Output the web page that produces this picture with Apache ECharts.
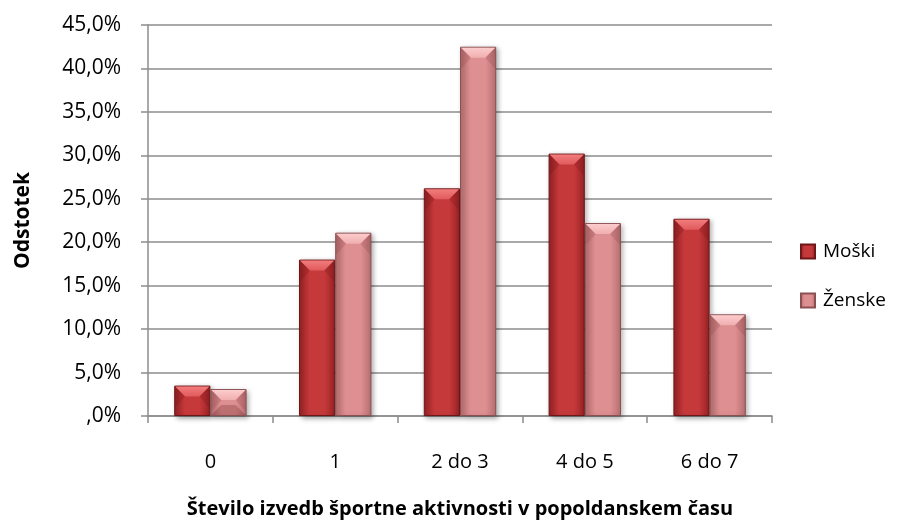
<!DOCTYPE html>
<html>
<head>
<meta charset="utf-8">
<script src="https://cdn.jsdelivr.net/npm/echarts@6/dist/echarts.min.js"></script>
<style>
  html, body { margin: 0; padding: 0; background: #ffffff; }
  #chart { width: 903px; height: 524px; }
</style>
</head>
<body>
<div id="chart"></div>
<script>
// Število izvedb športne aktivnosti v popoldanskem času, po spolu (odstotki)
const categories = ['0', '1', '2 do 3', '4 do 5', '6 do 7'];
const moski = [3.5, 18.0, 26.2, 30.2, 22.7];
const zenske = [3.1, 21.1, 42.5, 22.2, 11.7];
const seriesNames = ['Moški', 'Ženske'];

const FONT = '"Open Sans", "Noto Sans", sans-serif';
const GAP_RATIO = 0.42;   // barCategoryGap as a fraction
const BEVEL = 11;

const palette = {
  moski:  { edge: '#982224', mid: '#c6393b', cap: '#f27c7c', capEdge: '#e05a5c', side: 'rgba(120,20,22,0.25)', border: '#6e1618' },
  zenske: { edge: '#b86f71', mid: '#de8f91', cap: '#fccccc', capEdge: '#f0aeb0', side: 'rgba(130,60,62,0.2)', border: '#8a5052' }
};

function barGradient(p) {
  return new echarts.graphic.LinearGradient(0, 0, 1, 0, [
    { offset: 0, color: p.edge },
    { offset: 0.3, color: p.mid },
    { offset: 0.7, color: p.mid },
    { offset: 1, color: p.edge }
  ]);
}

// Bevelled cap on top of each bar, positioned through the axes' own scales
function bevelRenderer(p, slot) {
  return function (params, api) {
    const idx = api.value(0);
    const val = api.value(1);
    const top = api.coord([idx, val]);
    const base = api.coord([idx, 0]);
    const catW = api.size([1, 0])[0];
    const barW = catW * (1 - GAP_RATIO) / 2;
    const x0 = top[0] + (slot === 0 ? -barW : 0);
    const x1 = x0 + barW;
    const y0 = top[1];
    const h = base[1] - y0;
    const b = Math.min(BEVEL, h / 2, barW / 2);
    const children = [
      {
        // side facets of the cap
        type: 'polygon',
        shape: { points: [[x0 + 1, y0 + 1], [x0 + b, y0 + b], [x0 + 1, y0 + 2 * b]] },
        style: { fill: p.side },
        silent: true
      },
      {
        type: 'polygon',
        shape: { points: [[x1 - 1, y0 + 1], [x1 - b, y0 + b], [x1 - 1, y0 + 2 * b]] },
        style: { fill: p.side },
        silent: true
      },
      {
        type: 'polygon',
        shape: { points: [[x0 + 1, y0 + 1], [x1 - 1, y0 + 1], [x1 - b, y0 + b], [x0 + b, y0 + b]] },
        style: {
          fill: new echarts.graphic.LinearGradient(0, 0, 0, 1, [
            { offset: 0, color: p.cap },
            { offset: 1, color: p.capEdge }
          ])
        },
        silent: true
      }
    ];
    if (h < 2 * BEVEL + 6) {
      // short bars read as a pyramid: darker lower facet
      children.push({
        type: 'polygon',
        shape: { points: [[x0 + 1, base[1] - 1], [x1 - 1, base[1] - 1], [x1 - b, base[1] - b], [x0 + b, base[1] - b]] },
        style: { fill: 'rgba(90,20,20,0.25)' },
        silent: true
      });
    }
    return { type: 'group', children: children };
  };
}

const chart = echarts.init(document.getElementById('chart'), null, { renderer: 'canvas' });

chart.setOption({
  backgroundColor: '#ffffff',
  animation: false,
  grid: { left: 148, right: 131, top: 25, bottom: 108, containLabel: false, outerBoundsMode: 'none' },
  legend: {
    orient: 'vertical',
    left: 795,
    top: 237,
    itemWidth: 14,
    itemHeight: 14,
    itemGap: 30,
    icon: 'rect',
    textStyle: { fontFamily: FONT, fontSize: 19, color: '#000', padding: [0, 0, 0, 3] },
    data: seriesNames
  },
  xAxis: {
    type: 'category',
    data: categories,
    name: 'Število izvedb športne aktivnosti v popoldanskem času',
    nameLocation: 'middle',
    nameGap: 83,
    nameTextStyle: { fontFamily: FONT, fontSize: 20, fontWeight: 'bold', color: '#000' },
    axisLine: { lineStyle: { color: '#8c8c8c', width: 1.5 } },
    axisTick: { show: true, length: 7, lineStyle: { color: '#8c8c8c', width: 1.5 } },
    axisLabel: { fontFamily: FONT, fontSize: 20, color: '#000', margin: 36 }
  },
  yAxis: {
    type: 'value',
    min: 0,
    max: 45,
    interval: 5,
    name: 'Odstotek',
    nameLocation: 'middle',
    nameGap: 114,
    nameTextStyle: { fontFamily: FONT, fontSize: 21, fontWeight: 'bold', color: '#000' },
    axisLine: { show: true, lineStyle: { color: '#8c8c8c', width: 1.5 } },
    axisTick: { show: true, inside: false, length: 7, lineStyle: { color: '#8c8c8c', width: 1.5 } },
    axisLabel: {
      fontFamily: FONT, fontSize: 21, color: '#000', margin: 27,
      formatter: v => (v === 0 ? ',0%' : v.toFixed(1).replace('.', ',') + '%')
    },
    splitLine: { lineStyle: { color: '#8c8c8c', width: 1.5 } }
  },
  series: [
    {
      name: seriesNames[0],
      type: 'bar',
      data: moski,
      barGap: '0%',
      barCategoryGap: (GAP_RATIO * 100) + '%',
      itemStyle: {
        color: barGradient(palette.moski),
        borderColor: palette.moski.border,
        borderWidth: 1,
        shadowColor: 'rgba(0,0,0,0.35)',
        shadowBlur: 5,
        shadowOffsetX: 2,
        shadowOffsetY: 2
      }
    },
    {
      name: seriesNames[1],
      type: 'bar',
      data: zenske,
      itemStyle: {
        color: barGradient(palette.zenske),
        borderColor: palette.zenske.border,
        borderWidth: 1,
        shadowColor: 'rgba(0,0,0,0.35)',
        shadowBlur: 5,
        shadowOffsetX: 2,
        shadowOffsetY: 2
      }
    },
    {
      type: 'custom',
      renderItem: bevelRenderer(palette.moski, 0),
      data: moski.map((v, i) => [i, v]),
      encode: { x: 0, y: 1 },
      z: 3,
      silent: true
    },
    {
      type: 'custom',
      renderItem: bevelRenderer(palette.zenske, 1),
      data: zenske.map((v, i) => [i, v]),
      encode: { x: 0, y: 1 },
      z: 3,
      silent: true
    }
  ]
});
</script>
</body>
</html>
